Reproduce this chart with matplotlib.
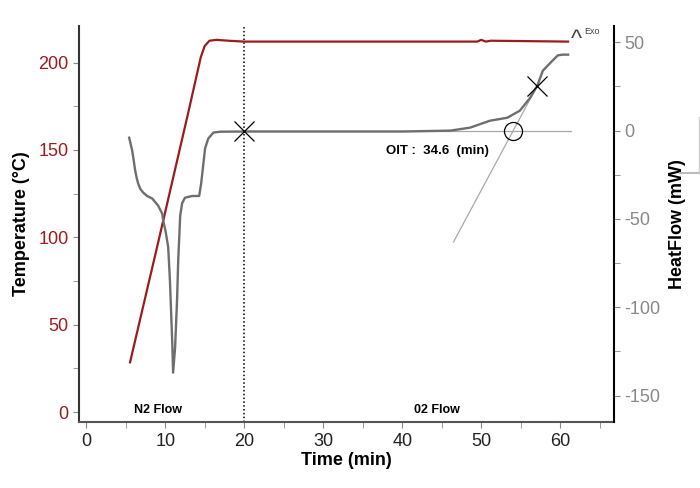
import matplotlib
matplotlib.use("Agg")
import matplotlib.pyplot as plt
from matplotlib.lines import Line2D

plt.rcParams['font.family'] = ['Liberation Sans', 'DejaVu Sans']
plt.rcParams['axes.unicode_minus'] = False

# temperature programme (left axis)
temp_t = [5.55, 7.0, 9.0, 11.0, 13.0, 14.5, 15.0, 15.6, 16.5, 18.0, 20.0, 30.0, 40.0, 49.5, 50.0, 50.6, 51.2, 61.0]
temp_v = [28.5, 56.5, 95.0, 134.0, 173.0, 203.0, 209.5, 212.5, 213.0, 212.5, 212.0, 212.0, 212.0, 212.0, 213.0, 212.0, 212.5, 212.0]

# heat flow curve (right axis)
hf_t = [5.44, 5.65, 5.82, 6.0, 6.2, 6.4, 6.58, 6.85, 7.2, 7.7, 8.35, 9.1, 9.62, 9.75, 10.05, 10.38, 10.6,
        10.75, 10.9, 11.0, 11.25, 11.5, 11.65, 11.9, 12.15, 12.5, 13.4, 14.3, 14.55, 14.8, 15.05,
        15.45, 16.1, 17.0, 20.0, 30.0, 40.0, 46.1, 48.6, 51.1, 53.3, 54.9, 56.2, 57.1, 57.8, 59.0,
        59.7, 60.3, 61.0]
hf_v = [-4, -8, -11.3, -16.5, -22.6, -27, -30, -33, -35, -37, -38.4, -42.4, -47, -51, -57, -66, -85,
        -103, -121, -137, -123, -96, -73, -48, -41, -38, -37, -37, -30, -20, -10,
        -4.5, -1.1, -0.6, -0.5, -0.5, -0.5, 0, 1.7, 5.6, 7.3, 11.3, 18.6, 25.4, 33.9, 39.5,
        42.6, 43.0, 43.0]

# OIT construction
base_t = [20.0, 61.4]
base_v = [0.0, 0.0]
tan_t = [46.5, 57.1]
tan_v = [-63.0, 25.4]
onset_t, onset_v = 54.0, 0.0
cross_t = [20.0, 57.1]
cross_v = [0.0, 25.4]
switch_t = 20.0

red = '#9b1c1c'
grey = '#6e6e6e'

fig = plt.figure(figsize=(7, 4.88), dpi=100)
ax = fig.add_axes([0.113, 0.135, 0.764, 0.812])
ax2 = ax.twinx()

ax.plot(temp_t, temp_v, color=red, lw=1.6, zorder=3)
ax.axvline(switch_t, color='black', ls=(0, (1, 1.5)), lw=1.1)

ax2.plot(base_t, base_v, color='#a8a8a8', lw=0.9)
ax2.plot(tan_t, tan_v, color='#a8a8a8', lw=0.9)
ax2.plot(hf_t, hf_v, color=grey, lw=1.7)
ax2.plot(cross_t, cross_v, 'x', color='black', ms=14, mew=0.9)
ax2.plot([onset_t], [onset_v], 'o', mfc='none', mec='black', ms=13, mew=0.9)

ax.set_xlim(-0.9, 66.8)
ax.set_ylim(-5.7, 221)
ax2.set_ylim(-165, 59.3)

ax.set_xticks(range(0, 70, 10))
ax.set_xticks(range(5, 70, 10), minor=True)
ax.set_yticks(range(0, 250, 50))
ax.set_yticks(range(25, 225, 50), minor=True)
ax2.set_yticks(range(-150, 100, 50))
ax2.set_yticks(range(-125, 75, 50), minor=True)

for a in (ax, ax2):
    a.spines['top'].set_visible(False)
ax.spines['right'].set_visible(False)
ax.spines['left'].set_color('#333333')
ax.spines['bottom'].set_color('#555555')
ax2.spines['left'].set_visible(False)
ax2.spines['bottom'].set_visible(False)
ax2.spines['right'].set_color('black')
for s in ('left', 'bottom'):
    ax.spines[s].set_linewidth(1.5)
ax2.spines['right'].set_linewidth(1.5)

ax.tick_params(axis='y', which='both', colors='#888888', labelcolor=red, labelsize=13, length=4)
ax.tick_params(axis='x', which='both', colors='#888888', labelcolor='#222222', labelsize=13, length=4)
ax2.tick_params(axis='y', which='both', colors='#888888', labelcolor='#888888', labelsize=13, length=4)

ax.set_xlabel('Time (min)', fontsize=13, fontweight='bold', labelpad=2)
ax.set_ylabel('Temperature (°C)', fontsize=13, fontweight='bold', labelpad=6)
ax2.set_ylabel('HeatFlow (mW)', fontsize=13, fontweight='bold', labelpad=6)

ax.text(9.1, 1.0, 'N2 Flow', fontsize=9, fontweight='bold', ha='center', va='center')
ax.text(44.4, 1.0, '02 Flow', fontsize=9, fontweight='bold', ha='center', va='center')
ax2.text(44.4, -11.3, 'OIT :  34.6  (min)', fontsize=9.5, fontweight='bold', ha='center', va='center')
ax2.text(62.0, 51.5, '^', fontsize=17, color='#444444', ha='center', va='center')
ax2.text(63.0, 56.0, 'Exo', fontsize=6.5, color='#444444', ha='left', va='center')

# stray grey frame edge at the right of the screenshot
fig.add_artist(Line2D([0.971, 1.0], [0.646, 0.646], color='#bbbbbb', lw=1.5))
fig.add_artist(Line2D([0.998, 0.998], [0.646, 0.76], color='#cccccc', lw=1))

fig.savefig('out.png', dpi=100)
